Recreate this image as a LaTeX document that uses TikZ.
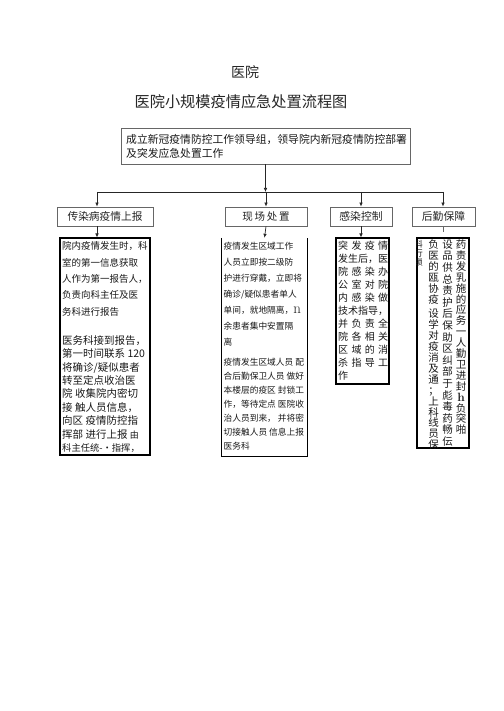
\documentclass[tikz,border=0pt]{standalone}
\usepackage{fontspec}
\newfontfamily\cjk{Noto Sans CJK SC}
\usetikzlibrary{arrows.meta}
\newcommand\jl[1]{\makebox[50pt][s]{#1}}
\begin{document}
\begin{tikzpicture}[x=1pt,y=-1pt,
  arr/.style={-{Latex[length=4pt,width=3.6pt]}, line width=0.7pt, black!85},
  bus/.style={line width=0.7pt, black!85},
  hdr/.style={draw=black!60, line width=0.8pt, rectangle, inner sep=0, text=black!85},
  cbox/.style={draw=black, line width=1.1pt, rectangle, inner sep=0},
  txt/.style={inner sep=0, anchor=north west, align=left, text=black!90},
  col/.style={inner sep=0, anchor=north, align=center, text=black!90},
]
\path[fill=white] (0,0) rectangle (503,711);
\useasboundingbox (0,0) rectangle (503,711);

% titles
\node[font=\cjk\fontsize{14}{14}\selectfont, text=black!85] (title) at (245,72) {医院};
\node[font=\cjk\fontsize{15.2}{16}\selectfont, text=black!85] (subtitle) at (241,102) {医院小规模疫情应急处置流程图};

% top box
\node[hdr, minimum width=289pt, minimum height=36pt] (top) at (265.5,146) {};
\node[txt, font=\cjk\fontsize{10.8}{14}\selectfont] (toptext) at (126,134.2) {成立新冠疫情防控工作领导组，领导院内新冠疫情防控部署\\及突发应急处置工作};

% header boxes
\node[hdr, minimum width=96pt, minimum height=19pt, font=\cjk\fontsize{10.7}{12}\selectfont] (hA) at (105,216.5) {传染病疫情上报};
\node[hdr, minimum width=82pt, minimum height=19pt, font=\cjk\fontsize{10.5}{12}\selectfont] (hB) at (266,216.5) {现\,场\,处\,置};
\node[hdr, minimum width=62pt, minimum height=19pt, font=\cjk\fontsize{10.8}{12}\selectfont] (hC) at (361,216.5) {感染控制};
\node[hdr, minimum width=63pt, minimum height=19pt, font=\cjk\fontsize{10.8}{12}\selectfont] (hD) at (443.5,216.5) {后勤保障};

% bus
\coordinate (bus) at (266,192);
\coordinate (bA) at (97,192);
\coordinate (bB) at (266,192);
\coordinate (bC) at (361,192);
\coordinate (bD) at (443,192);
\draw[arr] (top.south) -- (top.south |- bus);
\draw[bus] (bA) -- (bD);
\draw[arr] (bA) -- (bA |- hA.north);
\draw[arr] (bB) -- (bB |- hB.north);
\draw[arr] (bC) -- (bC |- hC.north);
\draw[arr] (bD) -- (bD |- hD.north);

% content boxes
\node[cbox, minimum width=90pt, minimum height=217pt] (cA) at (105,346.5) {};
\node[inner sep=0, minimum width=85pt, minimum height=218pt] (cB) at (264.5,347) {};
\draw[line width=1.1pt] (cB.north west) -- (cB.south west) -- (cB.south east) -- (cB.north east);
\node[cbox, minimum width=53pt, minimum height=146pt] (cC) at (362.5,311) {};
\node[cbox, minimum width=52pt, minimum height=210pt] (cD) at (443,343) {};

\draw[arr] (hA.south -| bA) -- (bA |- cA.north);
\draw[arr] (hB.south) -- (cB.north);
\draw[arr] (hC.south -| bC) -- (bC |- cC.north);
\coordinate (tickend) at (443,232);
\draw[line width=0.6pt, black!60] (hD.south -| tickend) -- (tickend);

% texts A
\node[txt, font=\cjk\fontsize{9.5}{16.3}\selectfont] (a1) at (62,241.7) {院内疫情发生时，科\\室的第一信息获取\\人作为第一报告人，\\负责向科主任及医\\务科进行报告};
\node[txt, font=\cjk\fontsize{10.5}{13.4}\selectfont] (a2) at (62,335.3) {医务科接到报告，\\第一时间联系 120\\将确诊/疑似患者\\转至定点收治医\\院\ 收集院内密切\\接\ 触人员信息，\\向区\ 疫情防控指\\挥部\ 进行上报\ {\fontsize{9}{13.4}\selectfont 由}\\{\fontsize{9.3}{13.4}\selectfont 科主任统-•指挥，}};

% texts B
\node[txt, font=\cjk\fontsize{8.7}{16}\selectfont] (b1) at (223.5,242) {疫情发生区域工作\\人员立即按二级防\\护进行穿戴，立即将\\确诊/疑似患者单人\\单间，就地隔离，{\rmfamily\fontsize{15}{16}\selectfont n}\\余患者集中安置隔\\离};
\node[txt, font=\cjk\fontsize{8.7}{14}\selectfont] (b2) at (223.5,358) {疫情发生区域人员\ 配\\合后勤保卫人员\ 做好\\本楼层的疫区\ 封锁工\\作，等待定点\ 医院收\\治人员到来，\ 并将密\\切接触人员\ 信息上报\\医务科};

% texts C
\node[txt, font=\cjk\fontsize{10}{13}\selectfont] (c1) at (338,240.5) {\jl{突\hfil 发\hfil 疫\hfil 情}\\发生后，医\\\jl{院\hfil 感\hfil 染\hfil 办}\\\jl{公\hfil 室\hfil 对\hfil 院}\\\jl{内\hfil 感\hfil 染\hfil 做}\\技术指导，\\\jl{并\hfil 负\hfil 责\hfil 全}\\\jl{院\hfil 各\hfil 相\hfil 关}\\\jl{区\hfil 域\hfil 的\hfil 消}\\\jl{杀\hfil 指\hfil 导\hfil 工}\\作};

% texts D (vertical columns)
\node[col, font=\cjk\fontsize{10.5}{10.9}\selectfont] (d1) at (461,239.5) {药\\责\\发\\乳\\施\\的\\应\\务\\一\\人\\勤\\卫\\进\\封\\{\rmfamily\bfseries\fontsize{12}{10.9}\selectfont h}\\负\\突\\啪};
\node[col, font=\cjk\fontsize{10.5}{11.6}\selectfont] (d2) at (447.5,239.5) {设\\品\\供\\总\\责\\护\\后\\保\\助\\区\\纠\\部\\于\\彪\\毒\\药\\畅\\伝};
\node[col, font=\cjk\fontsize{10.5}{10.9}\selectfont] (d3) at (433.5,239.5) {负\\医\\的\\瓯\\协\\疫\\[4pt]设\\学\\对\\疫\\消\\及\\通\\；\\上\\科\\线\\员\\保};
\begin{scope}
\clip (cD.north west) rectangle (cD.south east);
\node[col, font=\cjk\fontsize{8.5}{9}\selectfont] (d4) at (418.5,240) {科\\行\\锁};
\end{scope}
\end{tikzpicture}
\end{document}
